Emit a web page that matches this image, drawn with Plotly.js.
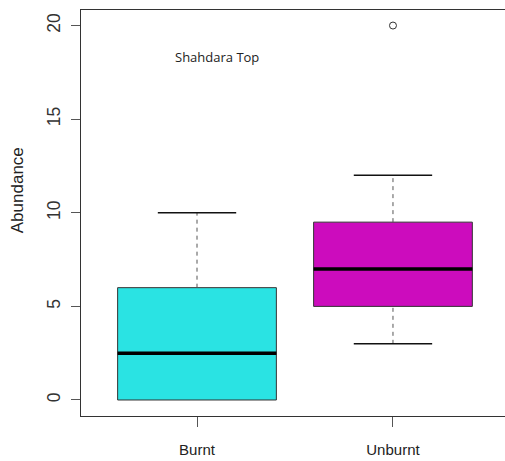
<!DOCTYPE html>
<html>
<head>
<meta charset="utf-8">
<script src="https://cdn.plot.ly/plotly-3.0.1.min.js"></script>
<style>
html,body{margin:0;padding:0;overflow:hidden;background:#fff;}
#chart{width:508px;height:461px;}
</style>
</head>
<body>
<div id="chart"></div>
<script>
// ---- data ----
const categories = ['Burnt', 'Unburnt'];
const q1Values = [0, 5];
const medianValues = [2.5, 7];
const q3Values = [6, 9.5];
const lowerWhiskers = [0, 3];
const upperWhiskers = [10, 12];
const outlierCategories = ['Unburnt'];
const outlierValues = [20];
const yTickValues = [0, 5, 10, 15, 20];
const boxColors = ['#2AE3E3', '#CC0CBD'];
const chartTitle = 'Shahdara Top';
const yTitle = 'Abundance';

// ---- styles ----
const boxWidth = 0.81;
const capHalf = 0.2;
const positions = categories.map((c, i) => i + 1);

const traces = [];
categories.forEach((cat, i) => {
  traces.push({
    type: 'box',
    x: [positions[i]],
    q1: [q1Values[i]],
    median: [medianValues[i]],
    q3: [q3Values[i]],
    lowerfence: [q1Values[i]],
    upperfence: [q3Values[i]],
    width: boxWidth,
    whiskerwidth: 0,
    fillcolor: boxColors[i],
    line: {color: '#333333', width: 1},
    boxpoints: false,
    hoverinfo: 'skip',
    showlegend: false
  });
});
categories.forEach((cat, i) => {
  const p = positions[i];
  const whisk = [[lowerWhiskers[i], q1Values[i]], [q3Values[i], upperWhiskers[i]]];
  whisk.forEach(([a, b], k) => {
    if (a === b) return;
    const capY = k === 0 ? a : b;
    traces.push({type: 'scatter', mode: 'lines', x: [p, p], y: [a, b],
      line: {color: '#555555', width: 1, dash: '4px,4px'}, hoverinfo: 'skip', showlegend: false});
    traces.push({type: 'scatter', mode: 'lines', x: [p - capHalf, p + capHalf], y: [capY, capY],
      line: {color: '#111111', width: 1.5}, hoverinfo: 'skip', showlegend: false});
  });
  // median
  traces.push({type: 'scatter', mode: 'lines', x: [p - boxWidth / 2, p + boxWidth / 2], y: [medianValues[i], medianValues[i]],
    line: {color: '#000000', width: 3.5}, hoverinfo: 'skip', showlegend: false});
});
traces.push({
  type: 'scatter', mode: 'markers',
  x: outlierCategories.map(c => positions[categories.indexOf(c)]),
  y: outlierValues,
  marker: {symbol: 'circle-open', size: 7, color: '#333333', line: {width: 1}},
  hoverinfo: 'skip', showlegend: false
});

const layout = {
  width: 508, height: 461,
  margin: {l: 81, r: 0, t: 10, b: 45},
  paper_bgcolor: '#ffffff', plot_bgcolor: '#ffffff',
  font: {family: 'Liberation Sans, Arial, sans-serif', color: '#222222'},
  hovermode: false,
  xaxis: {
    range: [0.408, 2.587],
    tickvals: positions, ticktext: categories,
    ticks: 'outside', ticklen: 10, tickcolor: '#555555', tickwidth: 1,
    tickfont: {size: 15, color: '#222222'},
    ticklabelstandoff: 10,
    showgrid: false, zeroline: false,
    showline: true, mirror: true, linecolor: '#333333', linewidth: 1
  },
  yaxis: {
    range: [-0.855, 20.83],
    tickvals: yTickValues,
    tickangle: -90,
    ticks: 'outside', ticklen: 9, tickcolor: '#555555', tickwidth: 1,
    tickfont: {size: 17.5, color: '#333333'},
    ticklabelstandoff: 4,
    showgrid: false, zeroline: false,
    showline: true, mirror: true, linecolor: '#333333', linewidth: 1
  },
  annotations: [
    {text: chartTitle, xref: 'paper', yref: 'paper', x: 0.318, y: 0.884,
     showarrow: false, xanchor: 'center', yanchor: 'middle',
     font: {family: 'Open Sans, sans-serif', size: 13, color: '#222222'}},
    {text: yTitle, xref: 'paper', yref: 'paper', x: -0.15, y: 0.556, xanchor: 'center', yanchor: 'middle',
     showarrow: false, textangle: -90,
     font: {family: 'Liberation Sans, Arial, sans-serif', size: 17, color: '#222222'}}
  ]
};

Plotly.newPlot('chart', traces, layout, {displayModeBar: false, staticPlot: true});
</script>
</body>
</html>
